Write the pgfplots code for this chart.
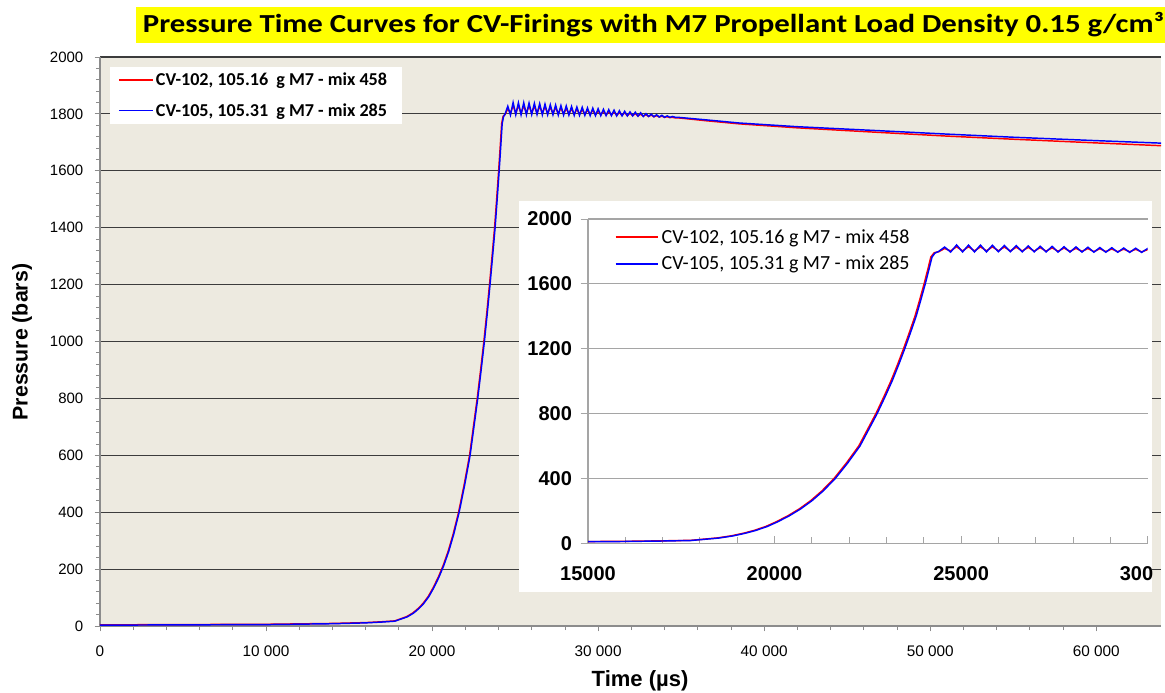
\documentclass[border=0pt]{standalone}
\usepackage{fontspec}
\setmainfont{Liberation Sans}
\newfontfamily\calibri{Carlito}
\usepackage{pgfplots}
\usepackage{pgfplotstable}
\pgfplotsset{compat=1.18}
\definecolor{plotbg}{RGB}{237,234,224}
\definecolor{gridmain}{RGB}{60,60,60}
\definecolor{axgray}{RGB}{140,140,140}
\definecolor{gridinset}{RGB}{165,165,165}
\definecolor{titleyellow}{RGB}{255,255,0}
\definecolor{cvred}{RGB}{255,0,0}
\definecolor{cvblue}{RGB}{0,0,255}

\pgfplotstableread{
t p
0 3
5000 4
10000 5
14000 8
16000 11
17000 14
17760 17
18000 22
18500 32
18875 45
19200 61
19480 78
19800 103
20080 132
20400 170
20700 212
21000 262
21300 322
21630 400
21960 495
22290 600
22520 700
22750 800
22955 900
23150 1000
23325 1100
23490 1200
23645 1300
23795 1400
23920 1500
24040 1600
24140 1690
24220 1765
24300 1790
24400 1800
24560 1827
24720 1796
24880 1840
25040 1797
25200 1839
25360 1797
25520 1839
25680 1797
25840 1838
26000 1798
26160 1837
26320 1798
26480 1836
26640 1797
26800 1834
26960 1797
27120 1832
27280 1797
27440 1831
27600 1796
27760 1829
27920 1796
28080 1828
28240 1796
28400 1826
28560 1795
28720 1824
28880 1795
29040 1823
29200 1795
29360 1821
29520 1794
29680 1820
29840 1794
30000 1818
30160 1794
30320 1816
30480 1794
30640 1815
30800 1794
30960 1813
31120 1793
31280 1811
31440 1793
31600 1809
31760 1793
31920 1807
32080 1793
32240 1806
32400 1792
32560 1804
32720 1791
32880 1801
33040 1791
33200 1799
33360 1790
33520 1797
33680 1789
33840 1795
34000 1788
34160 1793
34320 1788
34480 1791
34640 1788
34800 1788
35000 1787
36500 1779
38500 1768
42000 1755
46900 1741
51000 1729
55000 1718
60000 1706
64000 1697
}\bluetab

\pgfplotstableread{
t p
0 4
5000 5
10000 6
14000 9
16000 12
17000 15
17760 18
18000 23
18470 33
18845 46
19170 62
19450 79
19770 104
20050 133
20370 171
20670 213
20970 263
21270 323
21600 401
21930 496
22260 601
22490 701
22720 801
22925 901
23120 1001
23295 1101
23460 1201
23615 1301
23765 1401
23890 1501
24010 1601
24110 1691
24190 1766
24280 1792
24400 1798
24560 1818
24720 1803
24880 1829
25040 1803
25200 1829
25360 1803
25520 1828
25680 1804
25840 1828
26000 1804
26160 1827
26320 1803
26480 1826
26640 1803
26800 1825
26960 1802
27120 1823
27280 1802
27440 1822
27600 1801
27760 1821
27920 1800
28080 1819
28240 1800
28400 1818
28560 1799
28720 1817
28880 1799
29040 1815
29200 1798
29360 1814
29520 1798
29680 1813
29840 1797
30000 1811
30160 1797
30320 1810
30480 1796
30640 1808
30800 1796
30960 1807
31120 1795
31280 1805
31440 1795
31600 1804
31760 1794
31920 1803
32080 1794
32240 1801
32400 1793
32560 1799
32720 1792
32880 1797
33040 1791
33200 1796
33360 1790
33520 1794
33680 1789
33840 1792
34000 1788
34160 1790
34320 1787
34480 1788
34640 1786
34800 1786
35000 1785
36500 1776
38500 1765
42000 1751
46900 1735
51000 1722
55000 1711
60000 1698
64000 1688
}\redtab

\begin{document}
\begin{tikzpicture}
\useasboundingbox (0,0) rectangle (873.75pt,519.75pt);
\fill[titleyellow] (102pt,487.5pt) rectangle (880pt,514.5pt);
\node[anchor=base west, inner sep=0pt, font=\calibri\bfseries\fontsize{19.5}{23}\selectfont] at (107pt,495pt) {\scalebox{1.185}[1]{Pressure Time Curves for CV-Firings with M7 Propellant Load Density 0.15 g/cm³}};

\begin{axis}[
  at={(75pt,50.25pt)}, anchor=south west, scale only axis,
  width=795.75pt, height=426.75pt,
  xmin=0, xmax=63900, ymin=0, ymax=2000,
  scaled ticks=false,
  axis lines*=left,
  axis line style={axgray, line width=0.8pt},
  axis background/.style={fill=plotbg},
  xtick={0,10000,...,60000}, ytick={0,200,...,2000},
  minor x tick num=4, minor y tick num=4,
  tick align=outside, major tick length=4pt, minor tick length=3pt,
  every tick/.style={axgray, line width=0.6pt},
  ymajorgrids, major grid style={gridmain, line width=0.8pt},
  /pgf/number format/assume math mode=true,
  xticklabel style={font=\fontsize{11.5}{14}\selectfont, /pgf/number format/1000 sep={\ }, yshift=-7pt},
  yticklabel style={font=\fontsize{11.25}{13}\selectfont, /pgf/number format/1000 sep={}, xshift=-5pt},
  xlabel={Time (µs)}, ylabel={Pressure (bars)},
  xlabel style={font=\bfseries\fontsize{16.5}{19}\selectfont, at={(axis description cs:0.509,-0.0967)}, anchor=center},
  ylabel style={font=\bfseries\fontsize{16}{19}\selectfont, at={(axis description cs:-0.0735,0.499)}, anchor=center},
  legend style={at={(axis description cs:0.0094,0.9824)}, anchor=north west, draw=none, fill=none,
    font=\calibri\bfseries\fontsize{13.6}{16}\selectfont, inner xsep=6pt, inner ysep=1pt, row sep=6pt,
    nodes={inner ysep=3pt, inner xsep=1.5pt}},
  legend cell align=left,
  legend image code/.code={\draw[#1, line width=0.8pt] (0pt,0pt) -- (26pt,0pt);},
]
\addplot[cvred, line width=1.1pt] table[x=t, y=p] {\redtab};
\addplot[cvblue, line width=1.1pt] table[x=t, y=p] {\bluetab};
\fill[white] (rel axis cs:0.0094,0.8822) rectangle (rel axis cs:0.2847,0.9824);
\legend{CV-102{,} 105.16\hspace{0.45em}g M7 - mix 458, CV-105{,} 105.31\hspace{0.45em}g M7 - mix 285}
\end{axis}

\fill[white] (389.25pt,75.75pt) rectangle (864pt,369pt);

\begin{axis}[
  at={(441pt,112.3pt)}, anchor=south west, scale only axis,
  width=419.7pt, height=243.2pt,
  xmin=15000, xmax=30000, ymin=0, ymax=2000,
  scaled ticks=false,
  axis lines*=left,
  axis line style={gridinset, line width=0.8pt},
  xtick={15000,20000,25000,30000},
  xticklabels={15000,20000,25000,{300\phantom{00}}},
  ytick={0,400,...,2000},
  minor x tick num=4,
  xtick align=inside, ytick align=outside,
  major tick length=5.5pt, minor tick length=5pt,
  every tick/.style={gridinset, line width=0.7pt},
  ymajorgrids, major grid style={gridinset, line width=0.8pt},
  /pgf/number format/assume math mode=true,
  xticklabel style={font=\bfseries\fontsize{15}{18}\selectfont, yshift=-14pt},
  yticklabel style={font=\bfseries\fontsize{15}{18}\selectfont, /pgf/number format/1000 sep={}, xshift=-3pt},
  legend style={at={(axis description cs:0.04,0.985)}, anchor=north west, draw=none, fill=none,
    font=\calibri\fontsize{15}{18}\selectfont, row sep=4pt, nodes={inner ysep=2pt, inner xsep=2pt}},
  legend cell align=left,
  legend image code/.code={\draw[#1, line width=1.3pt] (0pt,0pt) -- (32pt,0pt);},
]
\addplot[cvred, line width=1.1pt] table[x=t, y=p] {\redtab};
\addplot[cvblue, line width=1.1pt] table[x=t, y=p] {\bluetab};
\legend{CV-102{,} 105.16 g M7 - mix 458, CV-105{,} 105.31 g M7 - mix 285}
\end{axis}
\end{tikzpicture}
\end{document}
